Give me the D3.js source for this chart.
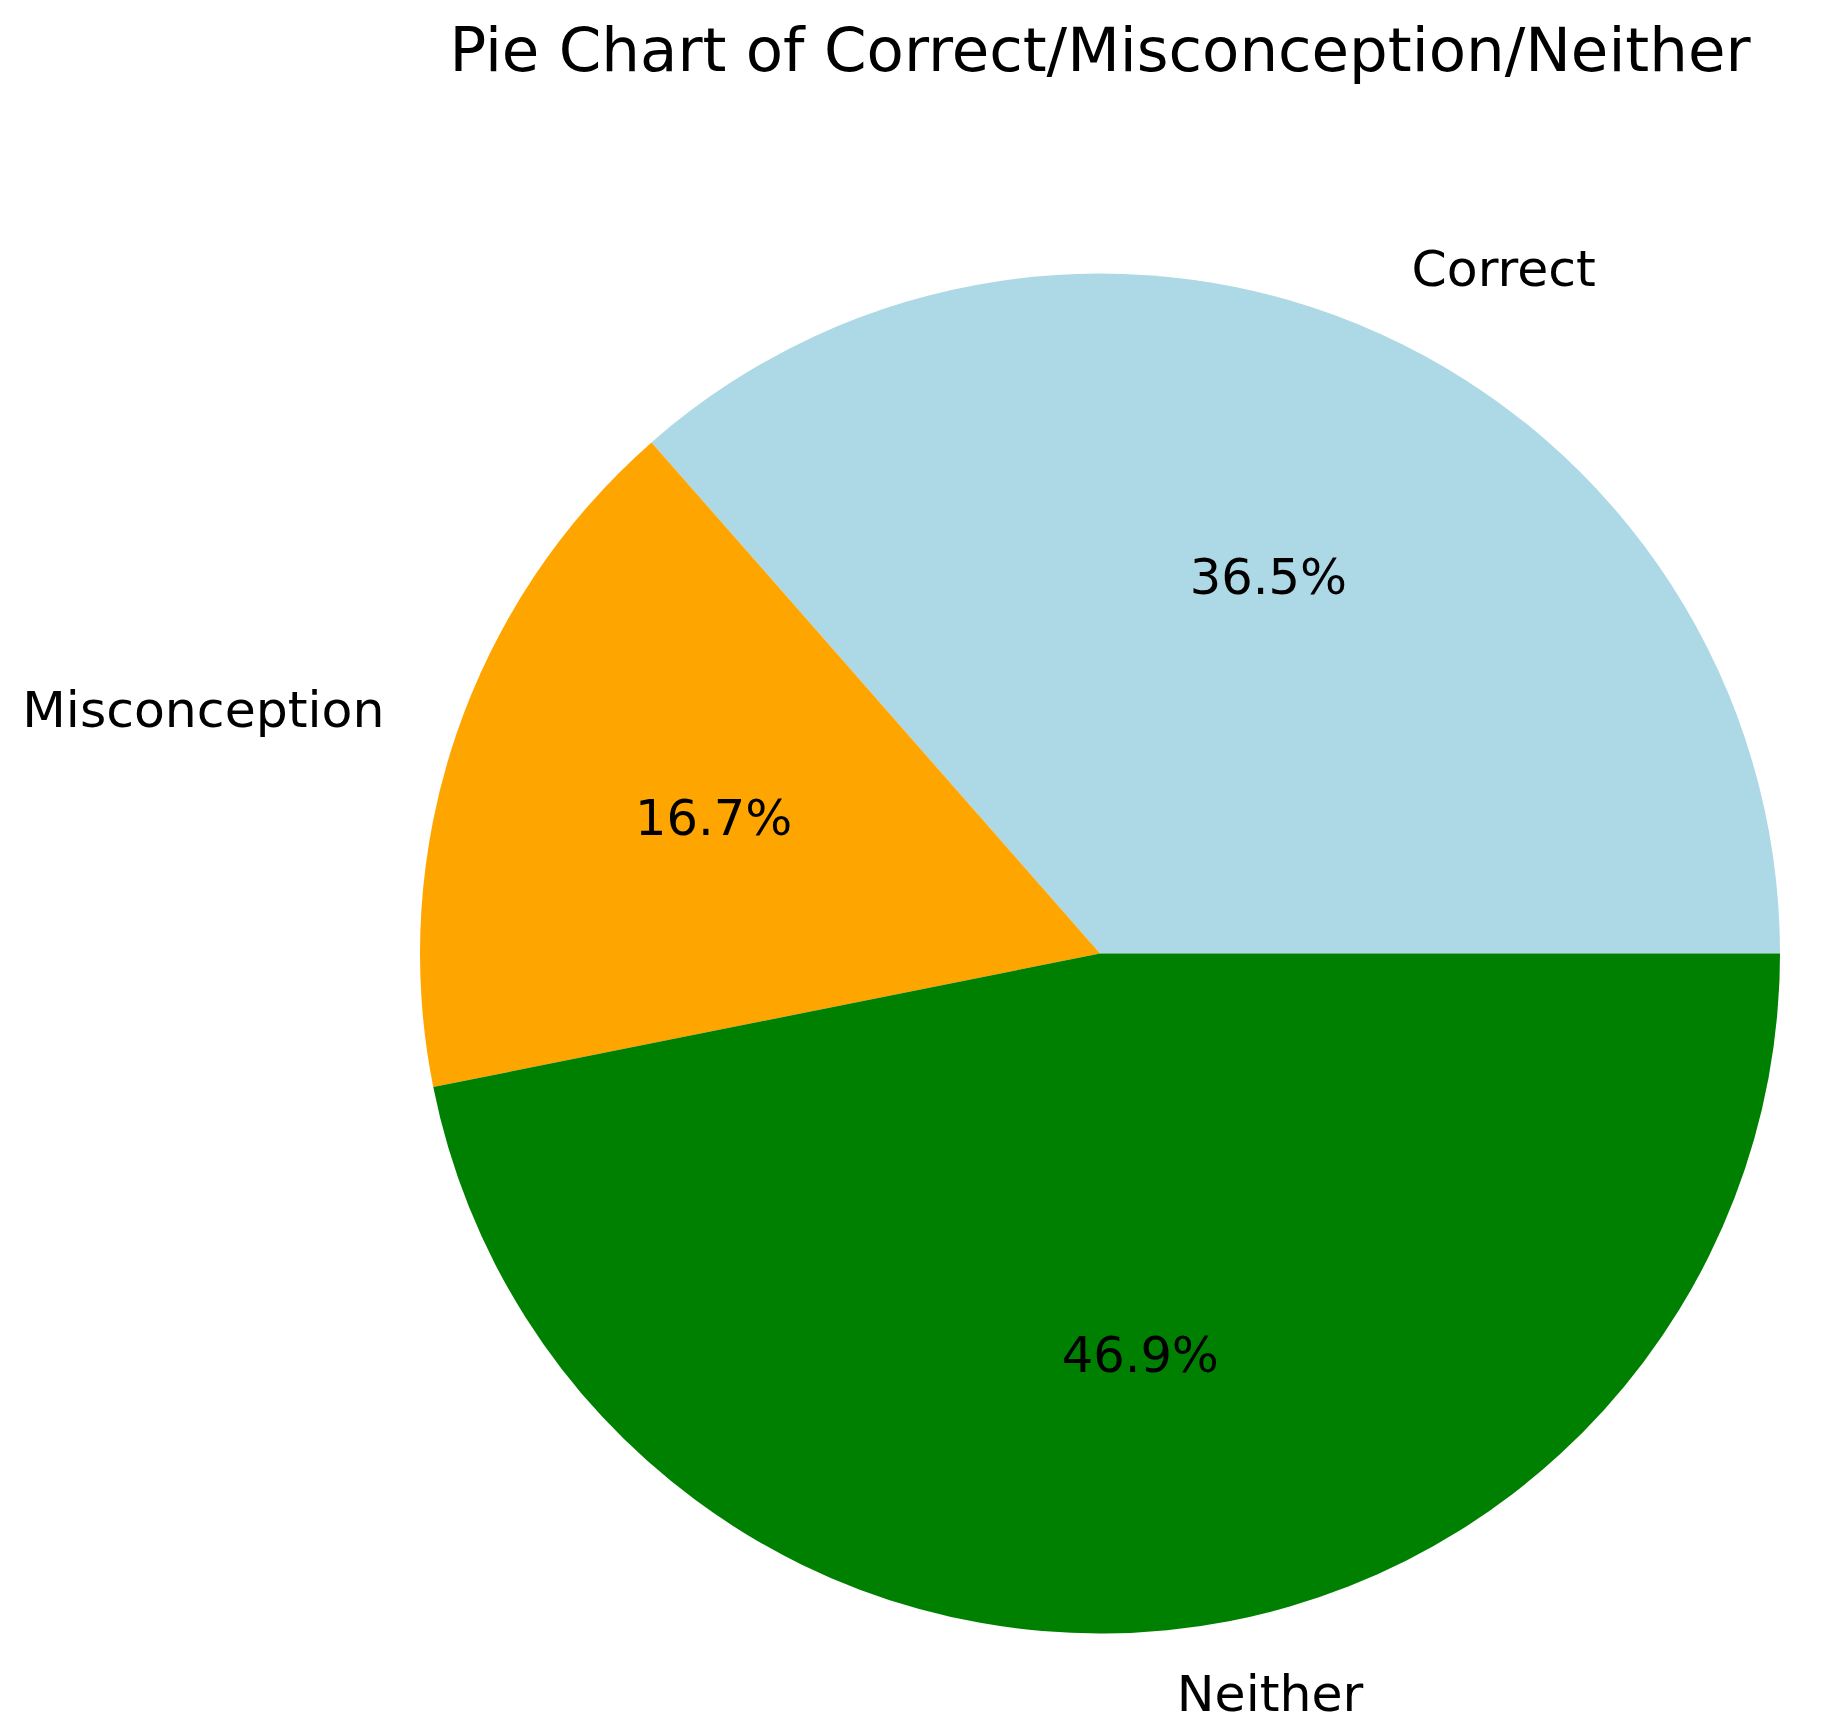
<!DOCTYPE html>
<html>
<head>
<meta charset="utf-8">
<script src="https://cdn.jsdelivr.net/npm/d3@7"></script>
<style>
  html, body { margin: 0; padding: 0; background: #ffffff; }
  svg { display: block; font-family: "DejaVu Sans", sans-serif; }
</style>
</head>
<body>
<script>
const categories = ["Correct", "Misconception", "Neither"];
const values = [36.5, 16.7, 46.9];
const colors = ["#add8e6", "#ffa500", "#008000"];
const titleText = "Pie Chart of Correct/Misconception/Neither";

const W = 1821, H = 1733;
const cx = 1100, cy = 953.5, R = 680;

const svg = d3.select("body").append("svg").attr("width", W).attr("height", H);

svg.append("text")
  .attr("x", cx).attr("y", 71)
  .attr("text-anchor", "middle")
  .attr("font-size", 61)
  .attr("fill", "#000")
  .text(titleText);

// matplotlib: start at 3 o'clock, counterclockwise
const pie = d3.pie().sort(null).value(d => d)
  .startAngle(Math.PI / 2).endAngle(Math.PI / 2 - 2 * Math.PI);
const arcs = pie(values);
const arc = d3.arc().innerRadius(0).outerRadius(R);

const g = svg.append("g").attr("transform", `translate(${cx},${cy})`);
g.selectAll("path").data(arcs).enter().append("path")
  .attr("d", arc)
  .attr("fill", (d, i) => colors[i]);

function pos(d, r) {
  const a = (d.startAngle + d.endAngle) / 2; // d3 angle: 0 at top, clockwise
  return [r * Math.sin(a), -r * Math.cos(a)];
}

g.selectAll("text.lbl").data(arcs).enter().append("text")
  .attr("class", "lbl")
  .attr("x", d => pos(d, 1.1 * R)[0] + (pos(d, 1)[0] >= 0 ? 3 : -7))
  .attr("y", d => pos(d, 1.1 * R)[1] - 4)
  .attr("text-anchor", d => pos(d, 1)[0] >= 0 ? "start" : "end")
  .attr("dominant-baseline", "central")
  .attr("font-size", 50.5)
  .attr("fill", "#000")
  .text((d, i) => categories[i]);

g.selectAll("text.pct").data(arcs).enter().append("text")
  .attr("class", "pct")
  .attr("x", d => pos(d, 0.6 * R)[0])
  .attr("y", d => pos(d, 0.6 * R)[1] - 5)
  .attr("text-anchor", "middle")
  .attr("dominant-baseline", "central")
  .attr("font-size", 49.5)
  .attr("fill", "#000")
  .text(d => d.value.toFixed(1) + "%");
</script>
</body>
</html>
